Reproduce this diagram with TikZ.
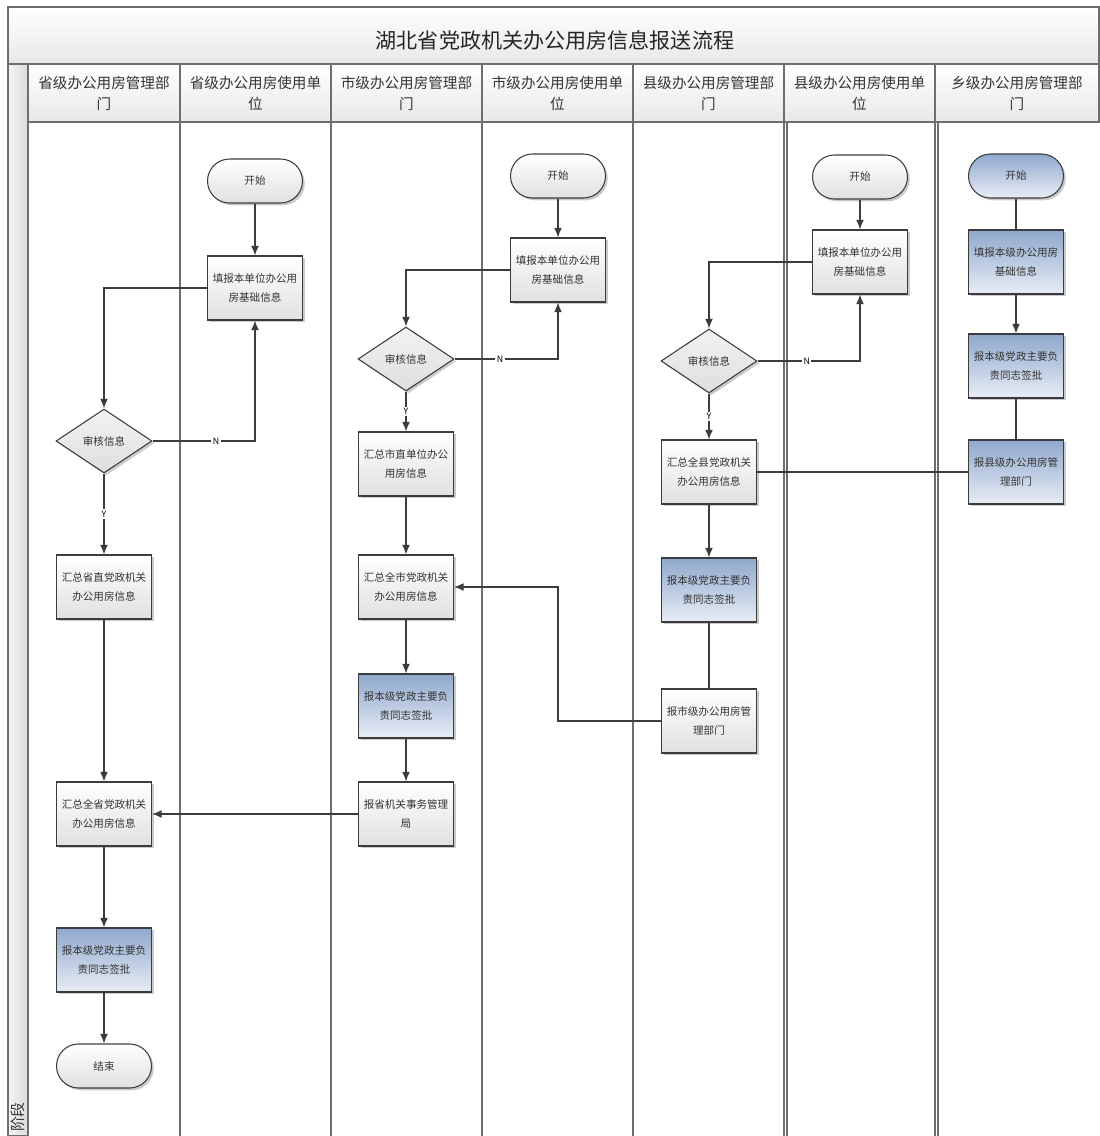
\documentclass[tikz,border=0pt]{standalone}
\usepackage{fontspec}
\setmainfont{Noto Sans CJK SC}
\usepackage{tikz}
\usetikzlibrary{arrows.meta,shapes.geometric,shadows}

\definecolor{lineclr}{HTML}{3C3C3C}
\definecolor{laneclr}{HTML}{6E6E6E}
\definecolor{bluetop}{HTML}{8FA8CD}
\definecolor{bluebot}{HTML}{E8EDF5}

\tikzset{
  flow/.style={draw=lineclr, line width=0.7pt},
  arr/.style={flow, -{Latex[length=5.5pt,width=4.5pt]}},
  dropsh/.style={drop shadow={shadow xshift=1.3pt, shadow yshift=-1.3pt, fill=black!35, opacity=0.6}},
  task/.style={rectangle, draw=lineclr, line width=0.6pt, top color=white, bottom color=black!12,
    minimum width=1.9cm, minimum height=1.28cm, inner sep=1pt, align=center, text=black!80,
    font=\fontsize{6}{11}\selectfont, dropsh},
  signbox/.style={task, top color=bluetop, bottom color=bluebot},
  term/.style={task, rounded corners=0.44cm, minimum height=0.88cm},
  check/.style={diamond, aspect=1.5, draw=lineclr, line width=0.6pt, top color=black!5, bottom color=black!13,
    minimum width=1.92cm, minimum height=1.28cm, inner sep=0pt, text=black!80,
    font=\fontsize{6}{8}\selectfont, dropsh},
  tag/.style={fill=white, inner sep=0.8pt, font=\fontsize{5}{6}\selectfont, text=black},
  hdrcell/.style={draw=laneclr, line width=0.6pt, top color=white, bottom color=black!9},
  hdrtext/.style={align=center, text=black!80, font=\fontsize{8.3}{12}\selectfont}
}

\begin{document}
\begin{tikzpicture}[x=0.02cm, y=-0.02cm]
  \useasboundingbox (0,0) rectangle (1099,1136);

  % frame, title and lane headers
  \path[hdrcell] (8,7) rectangle (1099,64);
  \node[font=\fontsize{12}{14}\selectfont, text=black!85] (title) at (555,40) {湖北省党政机关办公用房信息报送流程};
  \path[draw=laneclr, line width=0.6pt, left color=black!4, right color=black!14] (8,64) rectangle (28,1136);
  \node[rotate=90, font=\fontsize{8.5}{9}\selectfont, text=black!80] (phase) at (18,1117) {阶段};

  \foreach \xa/\xb/\txt in {28/180/{省级办公用房管理部\\门}, 180/331/{省级办公用房使用单\\位},
      331/482/{市级办公用房管理部\\门}, 482/633/{市级办公用房使用单\\位},
      633/784/{县级办公用房管理部\\门}, 784/935/{县级办公用房使用单\\位},
      935/1099/{乡级办公用房管理部\\门}} {
    \path[hdrcell] (\xa,64) rectangle (\xb,122);
    \node[hdrtext] at ({(\xa+\xb)/2},93) {\txt};
  }
  \foreach \x in {180,331,482,633}
    \draw[laneclr, line width=0.6pt] (\x,122) -- (\x,1136);
  \foreach \x in {784,935} {
    \draw[laneclr, line width=0.6pt] (\x,64) -- (\x,1136);
    \draw[laneclr, line width=0.6pt] (\x+3,122) -- (\x+3,1136);
  }

  % provincial lanes
  \node[check] (chkA) at (104,441) {审核信息};
  \node[task] (sumA) at (104,587) {汇总省直党政机关\\办公用房信息};
  \node[task] (allA) at (104,814) {汇总全省党政机关\\办公用房信息};
  \node[signbox] (signA) at (104,960) {报本级党政主要负\\责同志签批};
  \node[term] (endA) at (104,1066) {结束};
  \node[term] (startA) at (255,181) {开始};
  \node[task] (fillA) at (255,288) {填报本单位办公用\\房基础信息};

  % city lanes
  \node[check] (chkB) at (406,359) {审核信息};
  \node[task] (sumB) at (406,464) {汇总市直单位办公\\用房信息};
  \node[task] (allB) at (406,587) {汇总全市党政机关\\办公用房信息};
  \node[signbox] (signB) at (406,706) {报本级党政主要负\\责同志签批};
  \node[task] (rptB) at (406,814) {报省机关事务管理\\局};
  \node[term] (startB) at (558,176) {开始};
  \node[task] (fillB) at (558,270) {填报本单位办公用\\房基础信息};

  % county lanes
  \node[check] (chkC) at (709,361) {审核信息};
  \node[task] (allC) at (709,472) {汇总全县党政机关\\办公用房信息};
  \node[signbox] (signC) at (709,590) {报本级党政主要负\\责同志签批};
  \node[task] (rptC) at (709,721) {报市级办公用房管\\理部门};
  \node[term] (startC) at (860,177) {开始};
  \node[task] (fillC) at (860,262) {填报本单位办公用\\房基础信息};

  % township lane
  \node[term, top color=bluetop, bottom color=bluebot] (startD) at (1016,176) {开始};
  \node[signbox] (fillD) at (1016,262) {填报本级办公用房\\基础信息};
  \node[signbox] (signD) at (1016,366) {报本级党政主要负\\责同志签批};
  \node[signbox] (rptD) at (1016,472) {报县级办公用房管\\理部门};

  % connectors
  \draw[arr] (startA) -- (fillA);
  \draw[arr] (fillA.west) -| (chkA.north);
  \draw[arr] (chkA.east) -| node[tag, pos=0.31] {N} (fillA.south);
  \draw[arr] (chkA) -- node[tag] {Y} (sumA);
  \draw[arr] (sumA) -- (allA);
  \draw[arr] (rptB) -- (allA);
  \draw[arr] (allA) -- (signA);
  \draw[arr] (signA) -- (endA);

  \draw[arr] (startB) -- (fillB);
  \draw[arr] (fillB.west) -| (chkB.north);
  \draw[arr] (chkB.east) -| node[tag, pos=0.22] {N} (fillB.south);
  \draw[arr] (chkB) -- node[tag] {Y} (sumB);
  \draw[arr] (sumB) -- (allB);
  \draw[arr] (allB) -- (signB);
  \draw[arr] (signB) -- (rptB);
  \draw[arr] (rptC.west) -- (rptC.west -| fillB.south) |- (allB.east);

  \draw[arr] (startC) -- (fillC);
  \draw[arr] (fillC.west) -| (chkC.north);
  \draw[arr] (chkC.east) -| node[tag, pos=0.24] {N} (fillC.south);
  \draw[arr] (chkC) -- node[tag] {Y} (allC);
  \draw[arr] (allC) -- (signC);
  \draw[flow] (signC) -- (rptC);
  \draw[flow] (rptD) -- (allC);

  \draw[flow] (startD) -- (fillD);
  \draw[arr] (fillD) -- (signD);
  \draw[flow] (signD) -- (rptD);
\end{tikzpicture}
\end{document}
